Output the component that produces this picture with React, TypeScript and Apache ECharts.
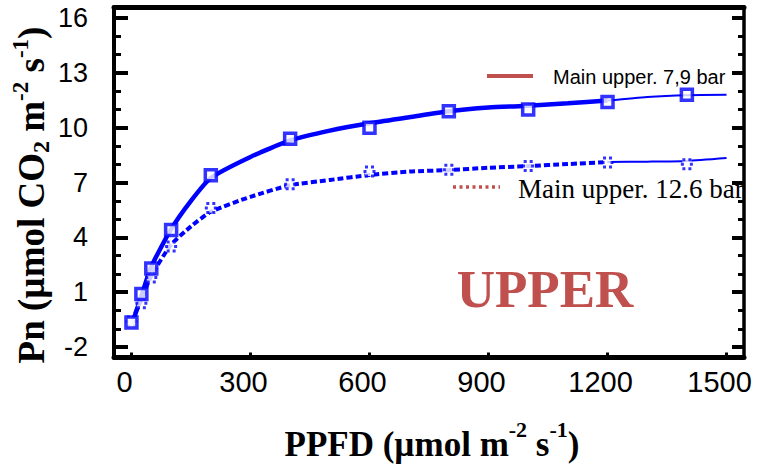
import React, { useEffect, useRef } from 'react';
import * as echarts from 'echarts';

// Observed points
const ppfd = [0, 25, 50, 100, 200, 400, 600, 800, 1000, 1200, 1400];
const pn79 = [-0.65, 0.9, 2.3, 4.4, 7.4, 9.4, 10.0, 10.9, 11.0, 11.4, 11.8];
const pn126 = [-0.6, 0.4, 1.8, 3.5, 5.6, 6.9, 7.6, 7.7, 7.9, 8.1, 8.0];

// Fitted curves
const fitX = [0, 25, 50, 100, 150, 200, 300, 400, 500, 600, 700, 800, 900, 1000, 1100, 1200];
const fit79 = [-0.85, 0.8, 2.4, 4.45, 6.0, 7.25, 8.4, 9.3, 9.84, 10.24, 10.57, 10.9, 11.1, 11.2, 11.33, 11.48];
const fit126 = [-0.6, 0.6, 1.9, 3.6, 4.6, 5.4, 6.22, 6.85, 7.14, 7.41, 7.6, 7.68, 7.81, 7.9, 8.01, 8.12];
const tailX = [1200, 1300, 1400, 1500];
const tail79 = [11.48, 11.68, 11.78, 11.8];
const tail126 = [8.12, 8.14, 8.18, 8.34];

// Ticks
const xTicks = [0, 300, 600, 900, 1200, 1500];
const yMajor = [-2, 1, 4, 7, 10, 13, 16];
const yMinor = [-2, -1, 0, 1, 2, 3, 4, 5, 6, 7, 8, 9, 10, 11, 12, 13, 14, 15, 16];

const legend1 = 'Main upper. 7,9 bar';
const legend2 = 'Main upper. 12.6 bar';
const panelLabel = 'UPPER';

const BLUE = '#0000ff';
const RED = '#c0504d';
const X_MIN = -44;
const X_MAX = 1544;
const Y_MIN = -2.57;
const Y_MAX = 16.6;

const zip = (xs: number[], ys: number[]) => xs.map((x, i) => [x, ys[i]]);
const plain = (v: number) => String(v);

export default function App() {
  const ref = useRef<HTMLDivElement>(null);
  useEffect(() => {
    const chart = echarts.init(ref.current!, null, { renderer: 'svg' });
    const yBase = { type: 'value', min: Y_MIN, max: Y_MAX, splitLine: { show: false } };
    const option: any = {
      animation: false,
      backgroundColor: '#ffffff',
      grid: { left: 114, right: 13, top: 7, bottom: 115.5 },
      xAxis: [
        {
          type: 'value', min: X_MIN, max: X_MAX, position: 'bottom',
          splitLine: { show: false },
          axisLine: { onZero: false, lineStyle: { color: '#000', width: 5 } },
          axisTick: { inside: true, length: 5, lineStyle: { width: 3, color: '#000' }, customValues: xTicks },
          axisLabel: {
            customValues: xTicks, formatter: plain, fontFamily: 'Liberation Sans', fontSize: 29, color: '#000',
            margin: 10, padding: [0, 14, 0, 0],
          },
        },
        {
          type: 'value', min: X_MIN, max: X_MAX, position: 'top',
          splitLine: { show: false },
          axisLine: { onZero: false, lineStyle: { color: '#000', width: 5 } },
          axisTick: { inside: true, length: 3, lineStyle: { width: 3, color: '#000' }, customValues: xTicks },
          axisLabel: { show: false },
        },
      ],
      yAxis: [
        {
          ...yBase, position: 'left',
          axisLine: { show: true, onZero: false, lineStyle: { color: '#000', width: 4 } },
          axisTick: { show: true, inside: true, length: 14, lineStyle: { width: 4, color: '#000' }, customValues: yMajor },
          axisLabel: { customValues: yMajor, formatter: plain, fontFamily: 'Liberation Sans', fontSize: 27, color: '#000', margin: 26 },
        },
        {
          ...yBase, position: 'left',
          axisLine: { show: false, onZero: false },
          axisTick: { show: true, inside: true, length: 7, lineStyle: { width: 3, color: '#000' }, customValues: yMinor },
          axisLabel: { show: false },
        },
        {
          ...yBase, position: 'right',
          axisLine: { show: true, onZero: false, lineStyle: { color: '#000', width: 3.5 } },
          axisTick: { show: true, inside: true, length: 12, lineStyle: { width: 4, color: '#000' }, customValues: yMajor },
          axisLabel: { show: false },
        },
        {
          ...yBase, position: 'right',
          axisLine: { show: false, onZero: false },
          axisTick: { show: true, inside: true, length: 6, lineStyle: { width: 3, color: '#000' }, customValues: yMinor },
          axisLabel: { show: false },
        },
      ],
      series: [
        {
          type: 'line', data: zip(fitX, fit79), smooth: 0.2, symbol: 'none',
          lineStyle: { color: BLUE, width: 4.5 },
        },
        {
          type: 'line', data: zip(tailX, tail79), smooth: 0.2, symbol: 'none',
          lineStyle: { color: BLUE, width: 2 },
        },
        {
          type: 'line', data: zip(fitX, fit126), smooth: 0.2, symbol: 'none',
          lineStyle: { color: BLUE, width: 4, type: [6, 3] },
        },
        {
          type: 'line', data: zip(tailX, tail126), smooth: 0.2, symbol: 'none',
          lineStyle: { color: BLUE, width: 2 },
        },
        {
          type: 'scatter', data: zip(ppfd, pn126), symbol: 'rect', symbolSize: 9,
          itemStyle: { color: '#fff', borderColor: BLUE, borderWidth: 3, borderType: [3, 3] },
          z: 3,
        },
        {
          type: 'scatter', data: zip(ppfd, pn79), symbol: 'rect', symbolSize: 11,
          itemStyle: { color: '#fff', borderColor: BLUE, borderWidth: 3.5 },
          z: 4,
        },
      ],
      graphic: [
        { type: 'line', shape: { x1: 487, y1: 76, x2: 533, y2: 76 }, style: { stroke: RED, lineWidth: 4 } },
        {
          type: 'text', x: 553, y: 77,
          style: { text: legend1, font: '20px "Liberation Sans"', fill: '#000', verticalAlign: 'middle' },
        },
        {
          type: 'line', shape: { x1: 453, y1: 187, x2: 500, y2: 187 },
          style: { stroke: RED, lineWidth: 3.5, lineDash: [3, 3.5] },
        },
        {
          type: 'text', x: 518, y: 189,
          style: { text: legend2, font: '27px "Liberation Serif"', fill: '#000', verticalAlign: 'middle' },
        },
        { type: 'rect', shape: { x: 746.5, y: 165, width: 12, height: 45 }, style: { fill: '#fff' } },
        {
          type: 'text', x: 545, y: 289,
          style: {
            text: panelLabel, font: 'bold 53px "Liberation Serif"', fill: RED,
            align: 'center', verticalAlign: 'middle',
          },
        },
        {
          type: 'text', x: 432, y: 440,
          style: {
            text: '{a|PPFD (µmol m}{c|-2}{a| s}{c|-1}{a|)}',
            align: 'center', verticalAlign: 'middle',
            rich: {
              a: { font: 'bold 35px "Liberation Serif"', fill: '#000', lineHeight: 44, verticalAlign: 'bottom' },
              c: { font: 'bold 22px "Liberation Serif"', fill: '#000', lineHeight: 44, verticalAlign: 'top' },
            },
          },
        },
        {
          type: 'text', x: 31, y: 195, rotation: Math.PI / 2,
          style: {
            text: '{a|Pn (µmol CO}{b|2}{a| m}{c|-2}{a| s}{c|-1}{a|)}',
            align: 'center', verticalAlign: 'middle',
            rich: {
              a: { font: 'bold 37px "Liberation Serif"', fill: '#000', lineHeight: 44, verticalAlign: 'middle' },
              b: { font: 'bold 24px "Liberation Serif"', fill: '#000', lineHeight: 44, verticalAlign: 'bottom' },
              c: { font: 'bold 23px "Liberation Serif"', fill: '#000', lineHeight: 44, verticalAlign: 'top' },
            },
          },
        },
      ],
    };
    chart.setOption(option);
    return () => chart.dispose();
  }, []);
  return <div ref={ref} style={{ position: 'fixed', left: 0, top: 0, width: 757, height: 473 }} />;
}
